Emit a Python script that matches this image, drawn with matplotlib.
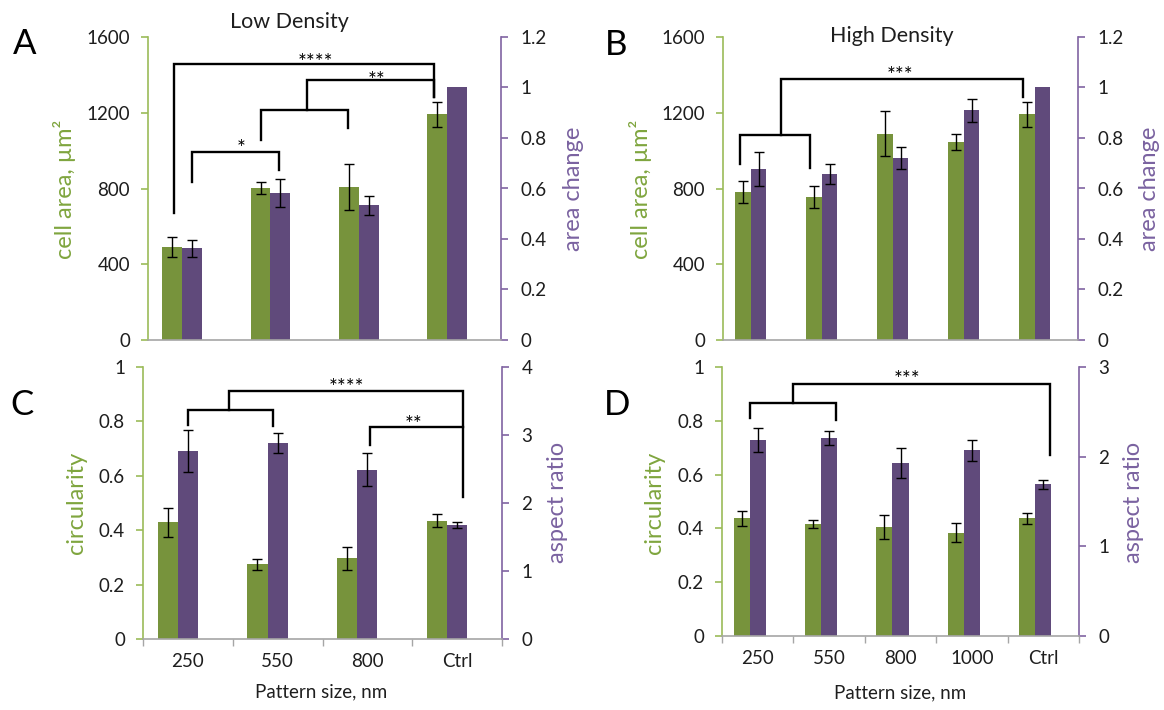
import matplotlib
matplotlib.use("Agg")
import matplotlib.pyplot as plt
import numpy as np
from matplotlib.transforms import offset_copy

plt.rcParams['font.family'] = ['Lato', 'DejaVu Sans']

# colores (estilo Excel)
VERDE = '#77933C'
MORADO = '#604A7B'
EJE_VERDE = '#9BBB59'
EJE_MORADO = '#8064A2'
EJE_GRIS = '#A6A6A6'
TXT_VERDE = '#7FA53E'
TXT_MORADO = '#7A62A0'
TXT = '#1E1E1E'

# datos
sizes_low = ['250', '550', '800', 'Ctrl']
sizes_high = ['250', '550', '800', '1000', 'Ctrl']

area_low = [489, 803, 809, 1192]
area_low_err = [53, 32, 120, 65]
change_low = [0.363, 0.583, 0.534, 1.0]
change_low_err = [0.033, 0.055, 0.037, np.nan]

area_high = [782, 756, 1090, 1044, 1192]
area_high_err = [57, 59, 121, 43, 65]
change_high = [0.678, 0.659, 0.721, 0.909, 1.0]
change_high_err = [0.067, 0.040, 0.042, 0.046, np.nan]

circ_low = [0.429, 0.274, 0.296, 0.434]
circ_low_err = [0.054, 0.021, 0.042, 0.024]
ar_low = [2.77, 2.88, 2.49, 1.68]
ar_low_err = [0.31, 0.15, 0.24, 0.046]

circ_high = [0.437, 0.416, 0.405, 0.384, 0.437]
circ_high_err = [0.029, 0.016, 0.046, 0.035, 0.020]
ar_high = [2.19, 2.21, 1.93, 2.07, 1.69]
ar_high_err = [0.134, 0.076, 0.171, 0.115, 0.052]

# corchetes de significancia: (x izq, x der, y, bajada izq, bajada der)
corchetes_A = [(0.0, 0.98, 993, 835, 900),
               (0.78, 1.77, 1213, 1055, 1122),
               (1.30, 2.74, 1371, 1213, 1283),
               (-0.20, 2.74, 1459, 668, 1283)]
estrellas_A = [('*', 0.55, 1037), ('**', 2.09, 1400), ('****', 1.40, 1494)]

corchetes_B = [(-0.265, 0.72, 1085, 929, 906),
               (0.315, 3.72, 1380, 1085, 1283)]
estrellas_B = [('***', 1.99, 1424)]

corchetes_C = [(0.0, 0.95, 0.843, 0.785, 0.782),
               (0.46, 3.07, 0.910, 0.843, 0.521),
               (2.03, 3.07, 0.779, 0.715, 0.779)]
estrellas_C = [('****', 1.77, 0.945), ('**', 2.52, 0.807)]

corchetes_D = [(-0.11, 1.10, 0.867, 0.812, 0.802),
               (0.50, 4.09, 0.936, 0.867, 0.674)]
estrellas_D = [('***', 2.09, 0.975)]

W, H = 1164, 710
fig = plt.figure(figsize=(W / 100, H / 100), dpi=100)


def rect(izq, der, arriba, abajo):
    return [izq / W, 1 - abajo / H, (der - izq) / W, (abajo - arriba) / H]


def texto(x, y, s, **kw):
    fig.text(x / W, 1 - y / H, s, ha='center', va='center', **kw)


def panel(r, cats, g, ge, p, pe, lylim, lticks, rylim, rticks,
          corchetes, estrellas, mostrar_x):
    ax = fig.add_axes(r)
    ax2 = ax.twinx()
    ax.set_zorder(ax2.get_zorder() + 1)
    ax.patch.set_visible(False)

    n = len(cats)
    x = np.arange(n)
    w = 0.225
    ax.bar(x - w, g, w, color=VERDE, align='center')
    ax.errorbar(x - w, g, yerr=ge, fmt='none', ecolor='black',
                elinewidth=1.0, capsize=3.6, capthick=1.0)
    ax2.bar(x, p, w, color=MORADO, align='center')
    ax2.errorbar(x, p, yerr=pe, fmt='none', ecolor='black',
                 elinewidth=1.0, capsize=3.6, capthick=1.0)

    ax.set_xlim(-0.5, n - 0.5)
    ax.set_ylim(*lylim)
    ax.set_yticks(lticks)
    ax.set_yticklabels(['%g' % t for t in lticks])
    ax2.set_ylim(*rylim)
    ax2.set_yticks(rticks)
    ax2.set_yticklabels(['%g' % t for t in rticks])

    for s in ['top', 'right']:
        ax.spines[s].set_visible(False)
    for s in ['top', 'left', 'bottom']:
        ax2.spines[s].set_visible(False)
    ax.spines['left'].set_color(EJE_VERDE)
    ax.spines['bottom'].set_color(EJE_GRIS)
    ax2.spines['right'].set_color(EJE_MORADO)
    for sp in [ax.spines['left'], ax.spines['bottom'], ax2.spines['right']]:
        sp.set_linewidth(1.2)

    ax.tick_params(axis='y', direction='out', length=5, width=1.2,
                   color=EJE_VERDE, pad=8, labelsize=13.5, labelcolor=TXT)
    ax2.tick_params(axis='y', direction='out', length=5, width=1.2,
                    color=EJE_MORADO, pad=9, labelsize=13.5, labelcolor=TXT)

    if mostrar_x:
        ax.set_xticks(x)
        ax.set_xticklabels(cats)
        ax.set_xticks(np.arange(-0.5, n), minor=True)
        ax.tick_params(axis='x', which='major', length=0, pad=10,
                       labelsize=13.5, labelcolor=TXT)
        ax.tick_params(axis='x', which='minor', direction='out', length=5,
                       width=1.0, color=EJE_GRIS)
    else:
        ax.set_xticks([])

    for xa, xb, y, ya, yb in corchetes:
        ax.plot([xa, xa, xb, xb], [ya, y, y, yb], color='black', lw=1.7,
                solid_joinstyle='miter', clip_on=False, zorder=5)
    tr = offset_copy(ax.transData, fig=fig, x=0, y=-8.5, units='points')
    for s, xs, ys in estrellas:
        ax.text(xs, ys, s, transform=tr, ha='center', va='baseline',
                fontsize=15, color='black')
    return ax, ax2


# A - baja densidad
panel(rect(148, 501, 37, 340), sizes_low, area_low, area_low_err,
      change_low, change_low_err, (0, 1600), [0, 400, 800, 1200, 1600],
      (0, 1.2), [0, 0.2, 0.4, 0.6, 0.8, 1.0, 1.2],
      corchetes_A, estrellas_A, False)
# B - alta densidad
panel(rect(723, 1078, 37, 340), sizes_high, area_high, area_high_err,
      change_high, change_high_err, (0, 1600), [0, 400, 800, 1200, 1600],
      (0, 1.2), [0, 0.2, 0.4, 0.6, 0.8, 1.0, 1.2],
      corchetes_B, estrellas_B, False)
# C
panel(rect(143, 502, 367, 639), sizes_low, circ_low, circ_low_err,
      ar_low, ar_low_err, (0, 1), [0, 0.2, 0.4, 0.6, 0.8, 1.0],
      (0, 4), [0, 1, 2, 3, 4],
      corchetes_C, estrellas_C, True)
# D
panel(rect(722, 1079, 367, 636), sizes_high, circ_high, circ_high_err,
      ar_high, ar_high_err, (0, 1), [0, 0.2, 0.4, 0.6, 0.8, 1.0],
      (0, 3), [0, 1, 2, 3],
      corchetes_D, estrellas_D, True)

# textos sueltos
texto(25, 44, 'A', fontsize=25, color='black')
texto(616, 45, 'B', fontsize=25, color='black')
texto(22, 405, 'C', fontsize=25, color='black')
texto(617, 405, 'D', fontsize=25, color='black')

texto(289, 22, 'Low Density', fontsize=15.5, color=TXT)
texto(892, 36, 'High Density', fontsize=15.5, color=TXT)

texto(64, 189, 'cell area, µm²', fontsize=17, color=TXT_VERDE, rotation=90)
texto(573, 189, 'area change', fontsize=17, color=TXT_MORADO, rotation=90)
texto(641, 189, 'cell area, µm²', fontsize=17, color=TXT_VERDE, rotation=90)
texto(1149, 189, 'area change', fontsize=17, color=TXT_MORADO, rotation=90)
texto(76, 503, 'circularity', fontsize=17, color=TXT_VERDE, rotation=90)
texto(557, 502, 'aspect ratio', fontsize=17, color=TXT_MORADO, rotation=90)
texto(655, 503, 'circularity', fontsize=17, color=TXT_VERDE, rotation=90)
texto(1133, 502, 'aspect ratio', fontsize=17, color=TXT_MORADO, rotation=90)

texto(321, 692, 'Pattern size, nm', fontsize=13.5, color=TXT)
texto(900, 693, 'Pattern size, nm', fontsize=13.5, color=TXT)

fig.savefig('out.png', dpi=100)
